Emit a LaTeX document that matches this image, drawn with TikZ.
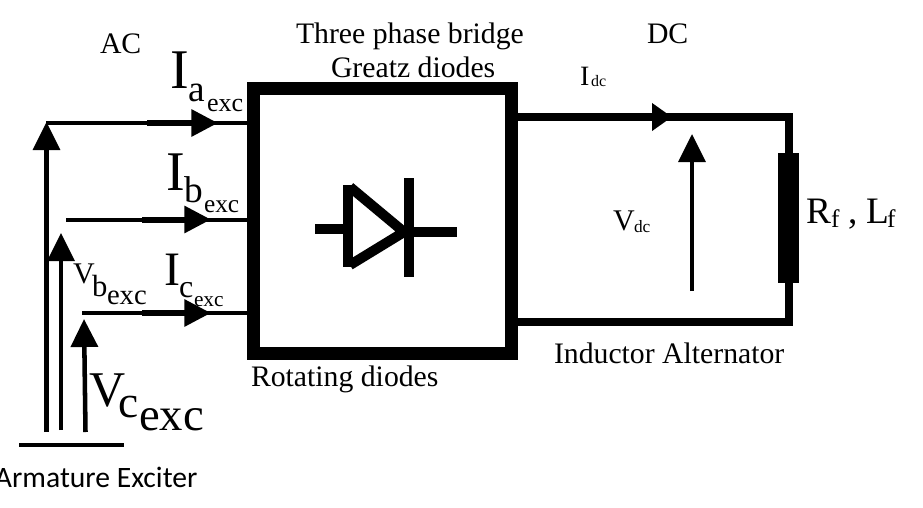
\documentclass[tikz,border=0pt]{standalone}
\usepackage{fontspec}
\setmainfont{Liberation Serif}
\newfontfamily\armfont{Carlito}
\usetikzlibrary{arrows.meta}
\newcommand{\fs}[1]{\fontsize{#1}{#1}\selectfont}
\tikzset{every picture/.style={line width=0.75pt}}
\tikzset{
  lbl/.style={anchor=base west,inner sep=0pt,outer sep=0pt},
  title/.style={lbl,font=\fs{22.3}},
  thinwire/.style={line width=3pt},
  fatwire/.style={line width=4.5pt,-{Triangle[length=20pt,width=19.5pt]}},
  volt/.style={line width=3.4pt,-{Triangle[length=21pt,width=20pt]}},
  diode/.style={line width=7.5pt},
  dcwire/.style={line width=6.2pt}
}

\begin{document}
\begin{tikzpicture}[x=0.75pt,y=0.75pt,yscale=-1,xscale=1]
\useasboundingbox (0,0) rectangle (923,507);

%bridge box
\node [draw, line width=9.75pt, inner sep=0pt, outer sep=0pt, minimum width=193.5pt, minimum height=198.4pt] (bridge) at (382.5,220.75) {} ;

%diode
\coordinate (dleft) at (315,229) ;
\coordinate (dback) at (348,229) ;
\coordinate (dtip) at (404,232) ;
\coordinate (dright) at (457,232) ;
\draw [diode] (dleft) -- (dback) ;
\draw [diode] (348,185) -- (348,267) ;
\draw [diode] (350,187) -- (dtip) -- (350,265) ;
\draw [diode] (409,178) -- (409,277) ;
\draw [diode] (409,232) -- (dright) ;

%ac wires
\coordinate (ia) at (46,123) ;
\coordinate (ib) at (66,219.5) ;
\coordinate (ic) at (82,313) ;
\draw [thinwire] (ia) -- (ia -| bridge.west) ;
\draw [thinwire] (ib) -- (ib -| bridge.west) ;
\draw [thinwire] (ic) -- (ic -| bridge.west) ;
\draw [fatwire] (147,123) -- (218,123) ;
\draw [fatwire] (142,219.5) -- (211,219.5) ;
\draw [fatwire] (142,313) -- (211,313) ;

%exciter voltages
\coordinate (va) at (46.5,432) ;
\coordinate (vb) at (61,430) ;
\coordinate (vc) at (85.5,432) ;
\draw [volt] (va) -- (46.5,122) ;
\draw [volt] (vb) -- (61,233) ;
\draw [volt] (vc) -- (84,319) ;
\coordinate (barl) at (19,445) ;
\coordinate (barr) at (124,445) ;
\draw [line width=2.6pt] (barl) -- (barr) ;

%dc side
\coordinate (tr) at (789,117) ;
\coordinate (br) at (789,322) ;
\draw [dcwire] (tr -| bridge.east) -- (tr) ;
\draw [dcwire] (br -| bridge.east) -- (br) ;
\draw [line width=5.6pt,line cap=rect] (tr) -- (br) ;
\draw [dcwire,-{Triangle[length=15pt,width=20pt]}] (600,117) -- (672,117) ;
\node [fill=black, inner sep=0pt, outer sep=0pt, minimum width=15.75pt, minimum height=97.5pt] (field) at (788.5,218) {} ;
\coordinate (vdc) at (692,291) ;
\draw [volt] (vdc) -- (692,134) ;

%labels
\node [title] (ac) at (100,53) {AC} ;
\node [title] (three) at (296,43) {Three phase bridge} ;
\node [title] (greatz) at (331,77) {Greatz diodes} ;
\node [title] (dc) at (647,43) {DC} ;
\node [title] (rot) at (251,386) {Rotating diodes} ;
\node [title] (alt) at (554,363) {Inductor Alternator} ;
\node [lbl,font=\armfont\fs{22.2}] (arm) at (-5,487) {Armature Exciter} ;

\node [lbl,font=\fs{42}] (Ia) at (170,88) {I} ;
\node [lbl,font=\fs{28}] (Iasub) at (188,101) {a} ;
\node [lbl,font=\fs{19.5}] (Iaexc) at (207,111) {exc} ;

\node [lbl,font=\fs{42}] (Ib) at (166,190) {I} ;
\node [lbl,font=\fs{28}] (Ibsub) at (184,202) {b} ;
\node [lbl,font=\fs{19}] (Ibexc) at (204,212) {exc} ;

\node [lbl,font=\fs{36}] (Ic) at (164,285) {I} ;
\node [lbl,font=\fs{24}] (Icsub) at (179,297) {c} ;
\node [lbl,font=\fs{16}] (Icexc) at (194,306) {exc} ;

\node [lbl,font=\fs{22.5}] (Vb) at (73,283) {V} ;
\node [lbl,font=\fs{23}] (Vbsub) at (92,296) {b} ;
\node [lbl,font=\fs{21.5}] (Vbexc) at (107,304) {exc} ;

\node [lbl,font=\fs{37.5}] (Vc) at (89,406) {V} ;
\node [lbl,font=\fs{34}] (Vcsub) at (118,417) {c} ;
\node [lbl,font=\fs{35}] (Vcexc) at (139,430) {exc} ;

\node [lbl,font=\fs{21}] (Idc) at (580,85) {I} ;
\node [lbl,font=\fs{12}] (Idcsub) at (591,86) {dc} ;
\node [lbl,font=\fs{22.5}] (Vdc) at (613,230) {V} ;
\node [lbl,font=\fs{13}] (Vdcsub) at (634,232) {dc} ;
\node [lbl,font=\fs{28}] (Rf) at (806,223) {R} ;
\node [lbl,font=\fs{19}] (Rfsub) at (831,227) {f} ;
\node [lbl,font=\fs{28}] (comma) at (848,223) {,} ;
\node [lbl,font=\fs{28}] (Lf) at (866,223) {L} ;
\node [lbl,font=\fs{19}] (Lfsub) at (887,227) {f} ;
\end{tikzpicture}
\end{document}
